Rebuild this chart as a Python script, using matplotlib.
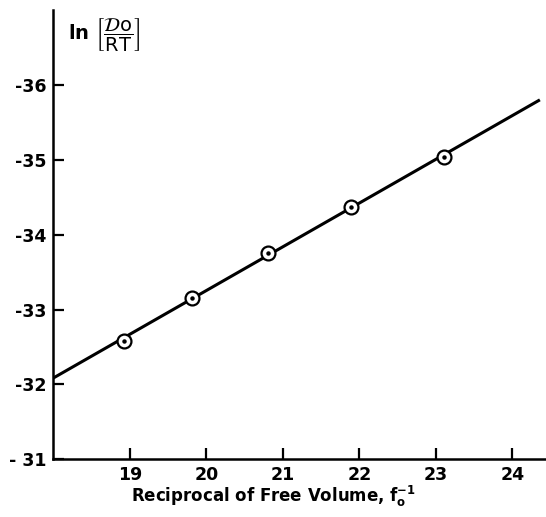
import matplotlib
matplotlib.use('Agg')
import matplotlib.pyplot as plt

# data
recip_free_vol = [18.92, 19.81, 20.81, 21.89, 23.11]
ln_d0_rt = [-32.58, -33.16, -33.76, -34.37, -35.04]

# straight line drawn through the points (end points)
fit_x = [18.0, 24.36]
fit_y = [-32.085, -35.80]

x_ticks = [19, 20, 21, 22, 23, 24]
y_ticks = [-31, -32, -33, -34, -35, -36]
y_tick_labels = ['- 31', '-32', '-33', '-34', '-35', '-36']

plt.rcParams['font.family'] = 'DejaVu Sans'
plt.rcParams['mathtext.fontset'] = 'dejavusans'

fig = plt.figure(figsize=(5.46, 5.17), dpi=100)
ax = fig.add_axes([0.0976, 0.1116, 0.9024, 0.8691])

ax.plot(fit_x, fit_y, color='black', lw=2.2, solid_capstyle='butt', zorder=2)
ax.plot(recip_free_vol, ln_d0_rt, linestyle='none', marker='o', ms=10,
        mfc='white', mec='black', mew=1.6, zorder=3)
ax.plot(recip_free_vol, ln_d0_rt, linestyle='none', marker='o', ms=2.2,
        color='black', zorder=4)

ax.set_xlim(18.0, 24.44)
ax.set_ylim(-31.0, -37.0)

ax.set_xticks(x_ticks)
ax.set_xticklabels([str(t) for t in x_ticks])
ax.set_yticks(y_ticks)
ax.set_yticklabels(y_tick_labels)

ax.tick_params(direction='in', length=8, width=1.6, labelsize=12.5, pad=5)
for lbl in ax.get_xticklabels() + ax.get_yticklabels():
    lbl.set_fontweight('bold')

for side in ['top', 'right']:
    ax.spines[side].set_visible(False)
for side in ['left', 'bottom']:
    ax.spines[side].set_linewidth(1.8)

ax.set_xlabel(r'Reciprocal of Free Volume, $\mathbf{f_o^{-1}}$', fontsize=12,
              fontweight='bold', va='center')
ax.xaxis.set_label_coords(0.446, -0.082)
ax.text(0.03, 0.985, r'ln $\left[\dfrac{\mathcal{D}\mathrm{o}}{\mathrm{RT}}\right]$',
        transform=ax.transAxes, fontsize=14, va='top', ha='left', fontweight='bold')

fig.savefig('out.png', dpi=100)
